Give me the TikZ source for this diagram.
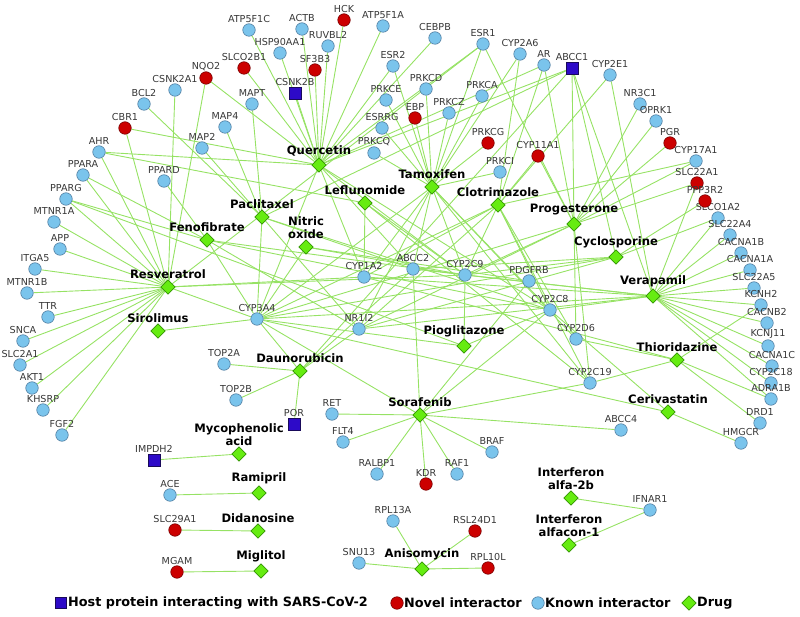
\documentclass[tikz,border=0pt]{standalone}
\usepackage{fontspec}
\setmainfont{DejaVu Sans}
\usetikzlibrary{shapes.geometric,backgrounds}
\definecolor{knownfill}{RGB}{122,196,236}
\definecolor{knownline}{RGB}{80,125,160}
\definecolor{novelfill}{RGB}{204,0,0}
\definecolor{novelline}{RGB}{120,0,0}
\definecolor{hostfill}{RGB}{45,10,200}
\definecolor{hostline}{RGB}{25,10,90}
\definecolor{drugfill}{RGB}{102,236,17}
\definecolor{drugline}{RGB}{50,150,0}
\definecolor{edgegreen}{RGB}{150,226,100}
\definecolor{labelgray}{RGB}{55,55,55}
\newcommand\pn[5]{\node[#1,label={[plab]above:#5}] (#2) at (#3,#4) {};}
\begin{document}
\begin{tikzpicture}[x=1pt,y=-1pt,
  known/.style={circle,draw=knownline,fill=knownfill,line width=0.6pt,minimum size=12.5pt,inner sep=0pt},
  novel/.style={circle,draw=novelline,fill=novelfill,line width=0.6pt,minimum size=12.5pt,inner sep=0pt},
  host/.style={rectangle,draw=hostline,fill=hostfill,line width=0.6pt,minimum size=12pt,inner sep=0pt},
  drug/.style={diamond,draw=drugline,fill=drugfill,line width=0.6pt,minimum size=14.5pt,inner sep=0pt},
  plab/.style={font=\fontsize{9.6}{10}\selectfont,text=labelgray,inner sep=1pt},
  dlab/.style={font=\fontsize{11.6}{13}\selectfont\bfseries,text=black,inner sep=1pt,align=center},
  legtext/.style={font=\fontsize{12.8}{14}\selectfont\bfseries,text=black,inner sep=0pt,anchor=west},
  edge/.style={draw=edgegreen,line width=0.9pt}]
\useasboundingbox (0,0) rectangle (800,617);
% known interactors
\pn{known}{ATP5F1C}{249}{30}{ATP5F1C}
\pn{known}{HSP90AA1}{280}{53}{HSP90AA1}
\pn{known}{ACTB}{302}{29}{ACTB}
\pn{known}{RUVBL2}{328}{46}{RUVBL2}
\pn{known}{ATP5F1A}{383}{26}{ATP5F1A}
\pn{known}{CEBPB}{435}{38}{CEBPB}
\pn{known}{ESR1}{483}{44}{ESR1}
\pn{known}{CYP2A6}{520}{54}{CYP2A6}
\pn{known}{AR}{544}{65}{AR}
\pn{known}{CYP2E1}{610}{75}{CYP2E1}
\pn{known}{NR3C1}{640}{104}{NR3C1}
\pn{known}{OPRK1}{656}{121}{OPRK1}
\pn{known}{CYP17A1}{696}{161}{CYP17A1}
\pn{known}{SLCO1A2}{718}{218}{SLCO1A2}
\pn{known}{SLC22A4}{730}{235}{SLC22A4}
\pn{known}{CACNA1B}{741}{253}{CACNA1B}
\pn{known}{CACNA1A}{750}{270}{CACNA1A}
\pn{known}{SLC22A5}{754}{288}{SLC22A5}
\pn{known}{KCNH2}{761}{305}{KCNH2}
\pn{known}{CACNB2}{767}{323}{CACNB2}
\pn{known}{KCNJ11}{768}{346}{KCNJ11}
\pn{known}{CACNA1C}{772}{366}{CACNA1C}
\pn{known}{CYP2C18}{771}{383}{CYP2C18}
\pn{known}{ADRA1B}{771}{399}{ADRA1B}
\pn{known}{DRD1}{760}{423}{DRD1}
\pn{known}{HMGCR}{741}{443}{HMGCR}
\pn{known}{ESR2}{393}{66}{ESR2}
\pn{known}{PRKCD}{426}{89}{PRKCD}
\pn{known}{PRKCE}{386}{100}{PRKCE}
\pn{known}{PRKCA}{482}{96}{PRKCA}
\pn{known}{PRKCZ}{449}{113}{PRKCZ}
\pn{known}{ESRRG}{382}{128}{ESRRG}
\pn{known}{PRKCQ}{374}{153}{PRKCQ}
\pn{known}{PRKCI}{500}{172}{PRKCI}
\pn{known}{CSNK2A1}{175}{90}{CSNK2A1}
\pn{known}{BCL2}{144}{104}{BCL2}
\pn{known}{MAPT}{252}{104}{MAPT}
\pn{known}{MAP4}{225}{127}{MAP4}
\pn{known}{MAP2}{202}{148}{MAP2}
\pn{known}{AHR}{99}{152}{AHR}
\pn{known}{PPARA}{83}{175}{PPARA}
\pn{known}{PPARD}{164}{181}{PPARD}
\pn{known}{PPARG}{66}{199}{PPARG}
\pn{known}{MTNR1A}{54}{222}{MTNR1A}
\pn{known}{APP}{60}{249}{APP}
\pn{known}{ITGA5}{35}{269}{ITGA5}
\pn{known}{MTNR1B}{27}{293}{MTNR1B}
\pn{known}{TTR}{48}{317}{TTR}
\pn{known}{SNCA}{23}{341}{SNCA}
\pn{known}{SLC2A1}{20}{365}{SLC2A1}
\pn{known}{AKT1}{32}{388}{AKT1}
\pn{known}{KHSRP}{43}{410}{KHSRP}
\pn{known}{FGF2}{62}{435}{FGF2}
\pn{known}{CYP3A4}{257}{319}{CYP3A4}
\pn{known}{CYP1A2}{364}{277}{CYP1A2}
\pn{known}{ABCC2}{413}{269}{ABCC2}
\pn{known}{CYP2C9}{465}{275}{CYP2C9}
\pn{known}{NR1I2}{359}{329}{NR1I2}
\pn{known}{PDGFRB}{529}{281}{PDGFRB}
\pn{known}{CYP2C8}{550}{310}{CYP2C8}
\pn{known}{CYP2D6}{576}{339}{CYP2D6}
\pn{known}{CYP2C19}{590}{383}{CYP2C19}
\pn{known}{TOP2A}{224}{364}{TOP2A}
\pn{known}{TOP2B}{236}{400}{TOP2B}
\pn{known}{RET}{332}{414}{RET}
\pn{known}{FLT4}{343}{442}{FLT4}
\pn{known}{BRAF}{492}{452}{BRAF}
\pn{known}{RALBP1}{377}{474}{RALBP1}
\pn{known}{RAF1}{457}{474}{RAF1}
\pn{known}{ABCC4}{621}{430}{ABCC4}
\pn{known}{IFNAR1}{650}{510}{IFNAR1}
\pn{known}{ACE}{170}{495}{ACE}
\pn{known}{RPL13A}{393}{521}{RPL13A}
\pn{known}{SNU13}{359}{563}{SNU13}
% novel interactors
\pn{novel}{HCK}{344}{20}{HCK}
\pn{novel}{SLCO2B1}{244}{68}{SLCO2B1}
\pn{novel}{NQO2}{206}{78}{NQO2}
\pn{novel}{SF3B3}{315}{70}{SF3B3}
\pn{novel}{CBR1}{125}{128}{CBR1}
\pn{novel}{EBP}{415}{118}{EBP}
\pn{novel}{PRKCG}{488}{143}{PRKCG}
\pn{novel}{CYP11A1}{538}{156}{CYP11A1}
\pn{novel}{PGR}{670}{143}{PGR}
\pn{novel}{SLC22A1}{697}{183}{SLC22A1}
\pn{novel}{PPP3R2}{705}{201}{PPP3R2}
\pn{novel}{KDR}{426}{484}{KDR}
\pn{novel}{RSL24D1}{475}{531}{RSL24D1}
\pn{novel}{RPL10L}{488}{568}{RPL10L}
\pn{novel}{SLC29A1}{175}{530}{SLC29A1}
\pn{novel}{MGAM}{177}{572}{MGAM}
% host proteins
\pn{host}{CSNK2B}{295}{93}{CSNK2B}
\pn{host}{ABCC1}{572}{68}{ABCC1}
\pn{host}{POR}{294}{424}{POR}
\pn{host}{IMPDH2}{154}{460}{IMPDH2}
% drugs
\node[drug,label={[dlab]above:Quercetin}] (quercetin) at (319,165) {};
\node[drug,label={[dlab]above:Tamoxifen}] (tamoxifen) at (432,187) {};
\node[drug,label={[dlab]above:Leflunomide}] (leflunomide) at (365,203) {};
\node[drug,label={[dlab]above:Clotrimazole}] (clotrimazole) at (498,205) {};
\node[drug,label={[dlab]above:Paclitaxel}] (paclitaxel) at (262,217) {};
\node[drug,label={[dlab]above:Progesterone}] (progesterone) at (574,224) {};
\node[drug,label={[dlab]above:Fenofibrate}] (fenofibrate) at (207,240) {};
\node[drug,label={[dlab]above:{Nitric\\oxide}}] (nitric) at (306,247) {};
\node[drug,label={[dlab]above:Cyclosporine}] (cyclosporine) at (616,257) {};
\node[drug,label={[dlab]above:Resveratrol}] (resveratrol) at (168,287) {};
\node[drug,label={[dlab]above:Verapamil}] (verapamil) at (653,296) {};
\node[drug,label={[dlab]above:Sirolimus}] (sirolimus) at (158,331) {};
\node[drug,label={[dlab]above:Pioglitazone}] (pioglitazone) at (464,346) {};
\node[drug,label={[dlab]above:Thioridazine}] (thioridazine) at (677,360) {};
\node[drug,label={[dlab]above:Daunorubicin}] (daunorubicin) at (300,371) {};
\node[drug,label={[dlab]above:Sorafenib}] (sorafenib) at (420,415) {};
\node[drug,label={[dlab]above:Cerivastatin}] (cerivastatin) at (668,412) {};
\node[drug,label={[dlab]above:{Mycophenolic\\acid}}] (myco) at (239,454) {};
\node[drug,label={[dlab]above:Ramipril}] (ramipril) at (259,493) {};
\node[drug,label={[dlab]above:Didanosine}] (didanosine) at (258,531) {};
\node[drug,label={[dlab]above:Miglitol}] (miglitol) at (261,571) {};
\node[drug,label={[dlab]above:{Interferon\\alfa-2b}}] (ifnb) at (571,498) {};
\node[drug,label={[dlab]above:{Interferon\\alfacon-1}}] (ifncon) at (569,545) {};
\node[drug,label={[dlab]above:Anisomycin}] (anisomycin) at (422,569) {};
% edges
\begin{pgfonlayer}{background}
\foreach \d/\p in {
 quercetin/ATP5F1C, quercetin/HSP90AA1, quercetin/ACTB, quercetin/HCK, quercetin/RUVBL2,
 quercetin/SF3B3, quercetin/CSNK2B, quercetin/ATP5F1A, quercetin/CEBPB, quercetin/SLCO2B1,
 quercetin/NQO2, quercetin/CBR1, quercetin/AHR, quercetin/ESR1, quercetin/ESR2, quercetin/ABCC1,
 quercetin/AR, quercetin/CYP1A2, quercetin/CYP3A4, quercetin/ABCC2, quercetin/CYP2C9, quercetin/CYP2C8,
 tamoxifen/PRKCE, tamoxifen/PRKCD, tamoxifen/PRKCA, tamoxifen/PRKCZ, tamoxifen/PRKCG, tamoxifen/PRKCQ,
 tamoxifen/PRKCI, tamoxifen/EBP, tamoxifen/ESR1, tamoxifen/ESR2, tamoxifen/ESRRG, tamoxifen/CYP2A6,
 tamoxifen/CYP3A4, tamoxifen/CYP2D6, tamoxifen/CYP2C9, tamoxifen/CYP1A2, tamoxifen/CYP2C19,
 tamoxifen/ABCC2, tamoxifen/NR1I2, tamoxifen/CYP2C8,
 leflunomide/AHR, leflunomide/CYP1A2, leflunomide/CYP2C9, leflunomide/CYP2C19,
 clotrimazole/CYP11A1, clotrimazole/CYP17A1, clotrimazole/CYP2A6, clotrimazole/CYP2E1,
 clotrimazole/CYP3A4, clotrimazole/CYP2C9, clotrimazole/CYP2C19, clotrimazole/CYP2C8,
 clotrimazole/CYP2D6, clotrimazole/CYP1A2, clotrimazole/NR1I2, clotrimazole/AR,
 paclitaxel/BCL2, paclitaxel/MAPT, paclitaxel/MAP4, paclitaxel/MAP2, paclitaxel/CYP3A4,
 paclitaxel/CYP2C8, paclitaxel/ABCC1, paclitaxel/ABCC2, paclitaxel/NR1I2,
 progesterone/PGR, progesterone/NR3C1, progesterone/OPRK1, progesterone/CYP17A1, progesterone/SLC22A1,
 progesterone/AR, progesterone/ABCC1, progesterone/CYP11A1, progesterone/CYP3A4, progesterone/CYP2C19,
 progesterone/CYP2C9, progesterone/CYP2D6, progesterone/ESR1, progesterone/NR1I2,
 fenofibrate/PPARA, fenofibrate/PPARG, fenofibrate/PPARD, fenofibrate/CYP3A4, fenofibrate/CYP2C9,
 fenofibrate/CYP2C8, fenofibrate/NR1I2,
 nitric/CYP2C9, nitric/PDGFRB, nitric/CYP3A4,
 cyclosporine/PPP3R2, cyclosporine/ABCC1, cyclosporine/ABCC2, cyclosporine/CYP3A4,
 cyclosporine/SLCO1A2, cyclosporine/NR1I2, cyclosporine/CYP2C9,
 resveratrol/MTNR1A, resveratrol/APP, resveratrol/ITGA5, resveratrol/MTNR1B, resveratrol/TTR,
 resveratrol/SNCA, resveratrol/SLC2A1, resveratrol/AKT1, resveratrol/KHSRP, resveratrol/FGF2,
 resveratrol/PPARA, resveratrol/PPARG, resveratrol/AHR, resveratrol/CBR1, resveratrol/CSNK2A1,
 resveratrol/NQO2, resveratrol/ESR1, resveratrol/CYP3A4, resveratrol/CYP1A2, resveratrol/CYP2C9,
 verapamil/SLCO1A2, verapamil/SLC22A4, verapamil/CACNA1B, verapamil/CACNA1A, verapamil/SLC22A5,
 verapamil/KCNH2, verapamil/CACNB2, verapamil/KCNJ11, verapamil/CACNA1C, verapamil/CYP2C18,
 verapamil/ADRA1B, verapamil/SLC22A1, verapamil/CYP2E1, verapamil/ABCC1, verapamil/CYP3A4,
 verapamil/CYP1A2, verapamil/CYP2C9, verapamil/CYP2C8, verapamil/ABCC2, verapamil/NR1I2,
 sirolimus/CYP3A4,
 pioglitazone/PPARG, pioglitazone/CYP2C8, pioglitazone/CYP3A4, pioglitazone/CYP2C9,
 thioridazine/KCNH2, thioridazine/ADRA1B, thioridazine/DRD1, thioridazine/CYP2D6,
 thioridazine/CYP1A2, thioridazine/CYP2C19,
 daunorubicin/TOP2A, daunorubicin/TOP2B, daunorubicin/POR, daunorubicin/CYP3A4,
 daunorubicin/ABCC1, daunorubicin/ABCC2, daunorubicin/NR1I2,
 sorafenib/RET, sorafenib/FLT4, sorafenib/RALBP1, sorafenib/KDR, sorafenib/RAF1, sorafenib/BRAF,
 sorafenib/ABCC4, sorafenib/PDGFRB, sorafenib/CYP3A4, sorafenib/CYP2C8, sorafenib/ABCC2,
 sorafenib/CYP2C19,
 cerivastatin/HMGCR, cerivastatin/CYP3A4, cerivastatin/CYP2C8,
 myco/IMPDH2, ramipril/ACE, didanosine/SLC29A1, miglitol/MGAM,
 ifnb/IFNAR1, ifncon/IFNAR1,
 anisomycin/RPL13A, anisomycin/RSL24D1, anisomycin/SNU13, anisomycin/RPL10L}
 {\draw[edge] (\d) -- (\p);}
\end{pgfonlayer}
% legend
\node[host,minimum size=11pt] (lghost) at (61,603) {};
\node[legtext] (lghostt) at (68,603) {Host protein interacting with SARS-CoV-2};
\node[novel] (lgnovel) at (397,603) {};
\node[legtext] (lgnovelt) at (404,603) {Novel interactor};
\node[known] (lgknown) at (538,603) {};
\node[legtext] (lgknownt) at (545,603) {Known interactor};
\node[drug] (lgdrug) at (689,603) {};
\node[legtext] (lgdrugt) at (697,603) {Drug};
\end{tikzpicture}
\end{document}
